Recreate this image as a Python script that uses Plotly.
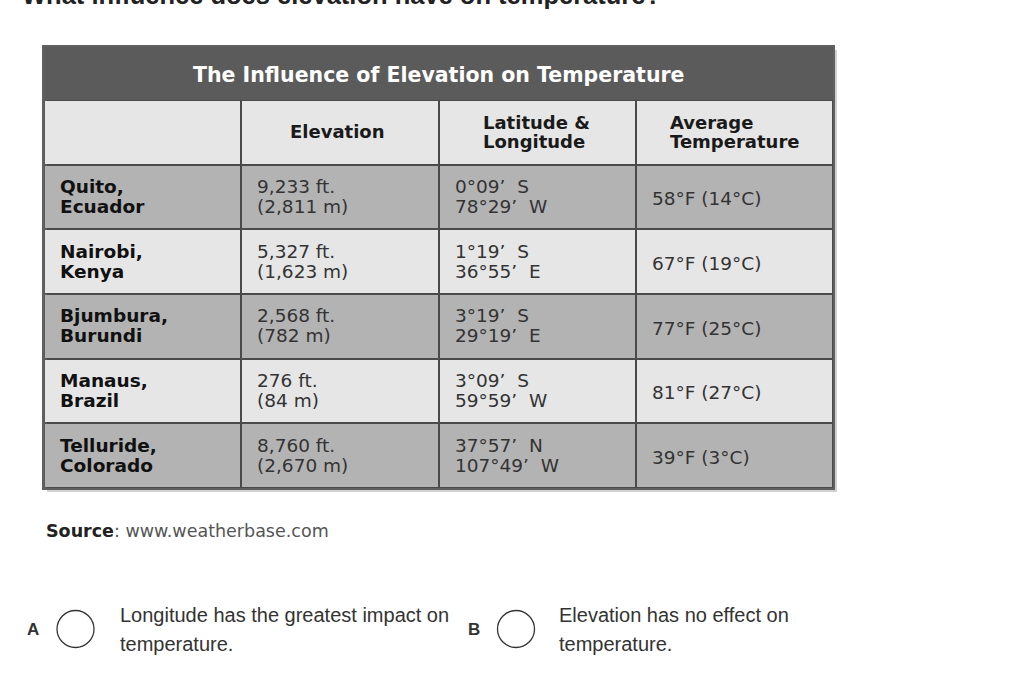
import plotly.graph_objects as go

W, H = 1029, 683

# ---------------- data ----------------
title_text = "The Influence of Elevation on Temperature"
question = "What influence does elevation have on temperature?"
col_headers = [[""], ["Elevation"], ["Latitude &", "Longitude"], ["Average", "Temperature"]]
city = ["Quito,", "Nairobi,", "Bjumbura,", "Manaus,", "Telluride,"]
region = ["Ecuador", "Kenya", "Burundi", "Brazil", "Colorado"]
elev_ft = ["9,233 ft.", "5,327 ft.", "2,568 ft.", "276 ft.", "8,760 ft."]
elev_m = ["(2,811 m)", "(1,623 m)", "(782 m)", "(84 m)", "(2,670 m)"]
lat = ["0°09\u2019  S", "1°19\u2019  S", "3°19\u2019  S", "3°09\u2019  S", "37°57\u2019  N"]
lon = ["78°29\u2019  W", "36°55\u2019  E", "29°19\u2019  E", "59°59\u2019  W", "107°49\u2019  W"]
avg_temp = ["58°F (14°C)", "67°F (19°C)", "77°F (25°C)", "81°F (27°C)", "39°F (3°C)"]
source_label = "Source"
source_url = "www.weatherbase.com"
option_letters = ["A", "B"]
option_lines = [["Longitude has the greatest impact on", "temperature."],
                ["Elevation has no effect on", "temperature."]]

# ---------------- geometry helpers (pixels -> paper) ----------------
def px(x):
    return x / W

def py(y):
    return 1 - y / H

tbl_left, tbl_right, tbl_top, tbl_bottom = 44, 833, 47, 488
header_top = 100
row_px = (tbl_bottom - header_top) / 6.0
title_units = (header_top - tbl_top) / row_px

n_rows = 1 + len(city)
n_cols = len(col_headers)

# shading: header light, then alternating dark/light
shade = [0] + [1 if i % 2 == 0 else 0 for i in range(len(city))]
z = [[s] * n_cols for s in shade]

fig = go.Figure()
fig.add_trace(go.Heatmap(
    z=z, x=list(range(n_cols)), y=list(range(n_rows)),
    colorscale=[[0, "#e6e6e6"], [1, "#b3b3b3"]], zmin=0, zmax=1,
    showscale=False, xgap=2, ygap=2, hoverinfo="skip",
))

ann = []
shapes = []

# title bar
shapes.append(dict(type="rect", xref="x", yref="y", x0=-0.5, x1=n_cols - 0.5,
                   y0=-0.5 - title_units, y1=-0.5, fillcolor="#5b5b5b",
                   line=dict(width=0), layer="below"))
ann.append(dict(xref="x", yref="y", x=(n_cols - 1) / 2.0, y=-0.5 - title_units / 2.0 + 0.02,
                text="<b>" + title_text + "</b>", showarrow=False,
                font=dict(family="DejaVu Sans", size=20.5, color="white"),
                xanchor="center", yanchor="middle"))

# header cells
hdr_font = dict(family="DejaVu Sans", size=18, color="#1a1a1a")
hdr_shift = [14, 50, 42, 32]
for c, lines in enumerate(col_headers):
    if len(lines) == 1:
        if lines[0]:
            ann.append(dict(xref="x", yref="y", x=c, y=-0.02, text="<b>" + lines[0] + "</b>",
                            showarrow=False, font=hdr_font, xanchor="center", yanchor="middle",
                            xshift=-2))
    else:
        for k, t in enumerate(lines):
            ann.append(dict(xref="x", yref="y", x=c - 0.5, y=(-0.155 if k == 0 else 0.14),
                            text="<b>" + t + "</b>", showarrow=False, font=hdr_font,
                            xanchor="left", yanchor="middle", xshift=hdr_shift[c]))

body_size = 18.5
bold_font = dict(family="DejaVu Sans", size=body_size, color="#111111")
reg_font = dict(family="DejaVu Sans", size=body_size, color="#333333")

def cell_two(c, r, l1, l2, bold=False):
    f = bold_font if bold else reg_font
    for k, t in enumerate([l1, l2]):
        ann.append(dict(xref="x", yref="y", x=c - 0.5, y=r + (-0.165 if k == 0 else 0.145),
                        text=("<b>" + t + "</b>") if bold else t, showarrow=False, font=f,
                        xanchor="left", yanchor="middle", xshift=14))

for i in range(len(city)):
    r = i + 1
    cell_two(0, r, city[i], region[i], bold=True)
    cell_two(1, r, elev_ft[i], elev_m[i])
    cell_two(2, r, lat[i], lon[i])
    ann.append(dict(xref="x", yref="y", x=3 - 0.5, y=r + 0.03, text=avg_temp[i],
                    showarrow=False, font=reg_font, xanchor="left", yanchor="middle", xshift=14))

# drop shadow behind table
shapes.append(dict(type="rect", xref="paper", yref="paper",
                   x0=px(tbl_left + 3), x1=px(tbl_right + 4),
                   y0=py(tbl_bottom + 4), y1=py(tbl_top + 3),
                   fillcolor="rgba(0,0,0,0.18)", line=dict(width=0), layer="below"))

# question (cut off at top)
ann.append(dict(xref="paper", yref="paper", x=px(20), y=py(-5), text="<b>" + question + "</b>",
                showarrow=False, xanchor="left", yanchor="middle",
                font=dict(family="Liberation Sans", size=25.5, color="#222222")))

# source
ann.append(dict(xref="paper", yref="paper", x=px(44), y=py(531),
                text="<b><span style='color:#222222'>" + source_label + "</span></b>: " + source_url,
                showarrow=False, xanchor="left", yanchor="middle",
                font=dict(family="DejaVu Sans", size=17.5, color="#555555")))

# answer options
opt_pos = [(33, 75.5, 118), (474, 516, 557)]
for (lx, cx, tx), letter, lines in zip(opt_pos, option_letters, option_lines):
    ann.append(dict(xref="paper", yref="paper", x=px(lx), y=py(629), text="<b>" + letter + "</b>",
                    showarrow=False, xanchor="center", yanchor="middle",
                    font=dict(family="Liberation Sans", size=17, color="#333333")))
    shapes.append(dict(type="circle", xref="paper", yref="paper",
                       x0=px(cx - 18.5), x1=px(cx + 18.5), y0=py(629 + 18.5), y1=py(629 - 18.5),
                       line=dict(color="#333333", width=1.3), fillcolor="white"))
    for k, t in enumerate(lines):
        ann.append(dict(xref="paper", yref="paper", x=px(tx), y=py(615 + 29 * k), text=t,
                        showarrow=False, xanchor="left", yanchor="middle",
                        font=dict(family="Liberation Sans", size=20, color="#333333")))

fig.update_layout(
    width=W, height=H, margin=dict(l=0, r=0, t=0, b=0),
    paper_bgcolor="white", plot_bgcolor="#5b5b5b",
    showlegend=False, annotations=ann, shapes=shapes,
    xaxis=dict(domain=[px(tbl_left), px(tbl_right)], range=[-0.5, n_cols - 0.5],
               showgrid=False, zeroline=False, showticklabels=False, ticks="",
               showline=True, mirror=True, linecolor="#606060", linewidth=2, fixedrange=True),
    yaxis=dict(domain=[py(tbl_bottom), py(tbl_top)], range=[n_rows - 0.5, -0.5 - title_units],
               showgrid=False, zeroline=False, showticklabels=False, ticks="",
               showline=True, mirror=True, linecolor="#606060", linewidth=2, fixedrange=True),
)

fig.write_html("out.html", config={"displayModeBar": False},
               post_script="document.body.style.margin='0';document.body.style.padding='0';")
